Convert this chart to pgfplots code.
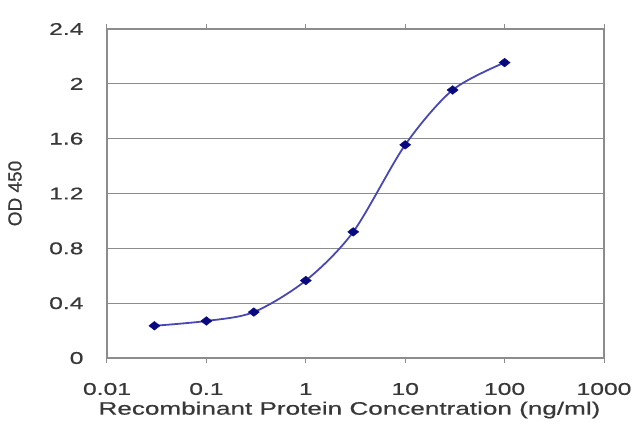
\documentclass[border=0pt]{standalone}
\usepackage{pgfplots}
\pgfplotsset{compat=1.18}
\usepackage{fontspec}
\setmainfont{Liberation Sans}[FakeBold=0.6]
\newfontfamily\wide{Liberation Sans}[FakeStretch=1.45, FakeBold=0.6]
\definecolor{gridgray}{HTML}{8C8C8C}
\definecolor{linecol}{HTML}{4848B4}
\definecolor{markcol}{HTML}{0A0A80}
\definecolor{txt}{HTML}{383838}
\begin{document}
\begin{tikzpicture}
\begin{axis}[
  scale only axis,
  width=497pt, height=329pt,
  xmode=log,
  xmin=0.01, xmax=1000,
  ymin=0, ymax=2.4,
  xtick={0.01,0.1,1,10,100,1000},
  xticklabels={0.01,0.1,1,10,100,1000},
  ytick={0,0.4,0.8,1.2,1.6,2,2.4},
  yticklabels={0,0.4,0.8,1.2,1.6,2,2.4},
  xminorticks=false,
  ymajorgrids,
  grid style={gridgray, line width=1pt},
  axis line style={gridgray, line width=1.1pt},
  every tick/.style={gridgray, line width=1pt},
  xtick align=outside,
  major tick length=5pt,
  ytick style={draw=none},
  tick label style={font=\wide\fontsize{17}{19}\selectfont, text=txt},
  /pgf/number format/assume math mode=true,
  xticklabel style={anchor=center, yshift=-26pt},
  yticklabel style={anchor=east, xshift=-20pt},
  xlabel={Recombinant Protein Concentration (ng/ml)},
  ylabel={OD 450},
  xlabel style={font=\wide\fontsize{18}{20}\selectfont, text=txt, anchor=center, at={(rel axis cs:0.5,0)}, yshift=-52pt, xshift=-6pt},
  ylabel style={font=\fontsize{19}{21}\selectfont, text=txt, anchor=center, at={(rel axis cs:0,0.5)}, yshift=92pt},
  clip=false,
]
\addplot[linecol, line width=1.8pt, smooth, mark=diamond*, mark size=4.3pt,
  mark options={fill=markcol, draw=markcol, line width=0.5pt, xscale=1.7}]
  coordinates {(0.03,0.235) (0.1,0.27) (0.3,0.335) (1,0.565) (3,0.92) (10,1.555) (30,1.955) (100,2.155)};
\path (rel axis cs:0,0) ++(-107pt,-69pt) coordinate (bl);
\path (rel axis cs:1,1) ++(36pt,29pt) coordinate (tr);
\end{axis}
\path (bl) rectangle (tr);
\end{tikzpicture}
\end{document}
